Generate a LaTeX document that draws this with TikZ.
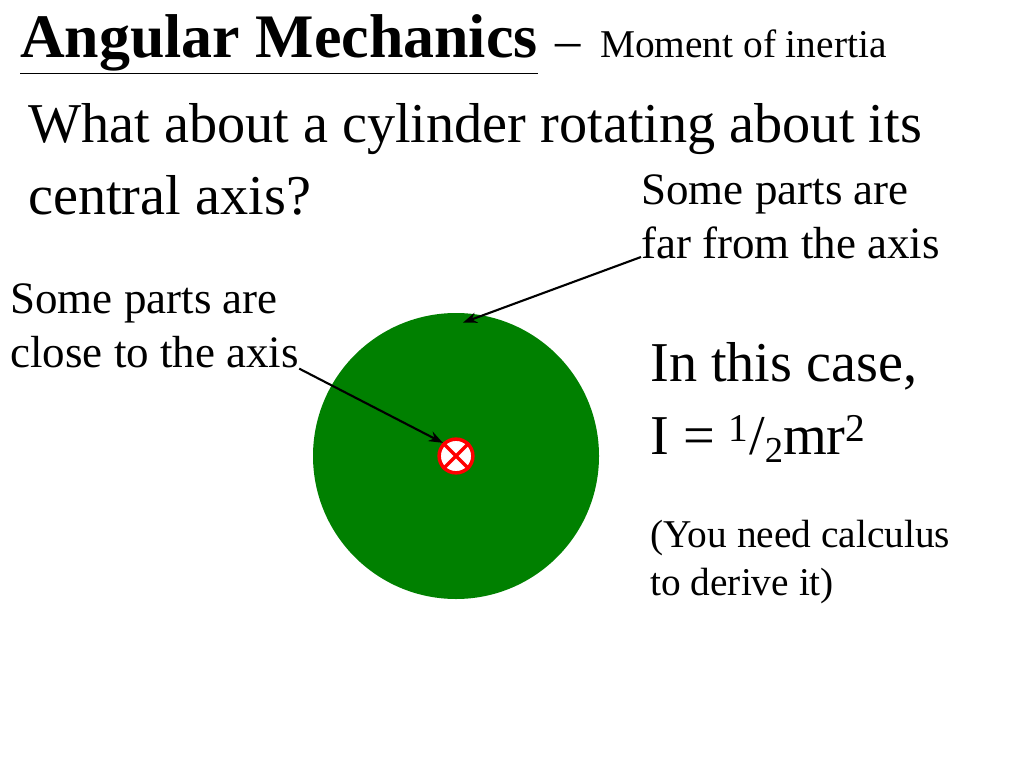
\documentclass[tikz,border=0pt]{standalone}
\usepackage{fontspec}
\setmainfont{Liberation Serif}
\usetikzlibrary{positioning, arrows.meta}
\tikzstyle{label} = [inner sep=0pt, align=left, anchor=north west]
\tikzstyle{pointer} = [-{Stealth[length=10pt]}, line width=1.5pt]
\begin{document}
\begin{tikzpicture}[x=0.025cm, y=-0.025cm]
  \useasboundingbox (0,0) rectangle (1024,768);

  % Title
  \node (title) at (20,14) [label, font=\fontsize{44}{48}\selectfont\bfseries] {\underline{Angular Mechanics}};
  \node (sub) at (title.base east) [anchor=base west, inner sep=0pt, xshift=12pt, font=\fontsize{28}{32}\selectfont] {{\fontsize{36}{40}\selectfont --}\ \ Moment of inertia};

  % Question
  \node (question) at (28,103) [label, font=\fontsize{40}{51}\selectfont] {What about a cylinder rotating about its\\central axis?};

  % Side notes
  \node (far) at (641,174) [label, font=\fontsize{32}{39}\selectfont] {Some parts are\\far from the axis};
  \node (close) at (10,283) [label, font=\fontsize{32}{39}\selectfont] {Some parts are\\close to the axis};

  % Cylinder
  \fill[green!50!black] (456,456) circle (143);
  \node (rim) at (462,323) [inner sep=0pt] {};
  \node (centre) at (456,456) [circle, draw=red, fill=white, line width=2.5pt, minimum size=24pt, inner sep=0pt] {};
  \draw[red, line width=2.5pt] (centre.north west) -- (centre.south east)
                               (centre.north east) -- (centre.south west);

  % Arrows
  \draw[pointer] (far.west |- 0,257) -- (rim);
  \draw[pointer] (close.south east) -- (centre.north west);

  % Result
  \node (result) at (650,342) [label, font=\fontsize{40}{52}\selectfont] {In this case,\\I = \textsuperscript{1}/\raisebox{-0.3ex}{\fontsize{26}{28}\selectfont 2}mr\textsuperscript{2}};
  \node (note) at (650,520) [label, font=\fontsize{28}{34}\selectfont] {(You need calculus\\to derive it)};
\end{tikzpicture}
\end{document}
